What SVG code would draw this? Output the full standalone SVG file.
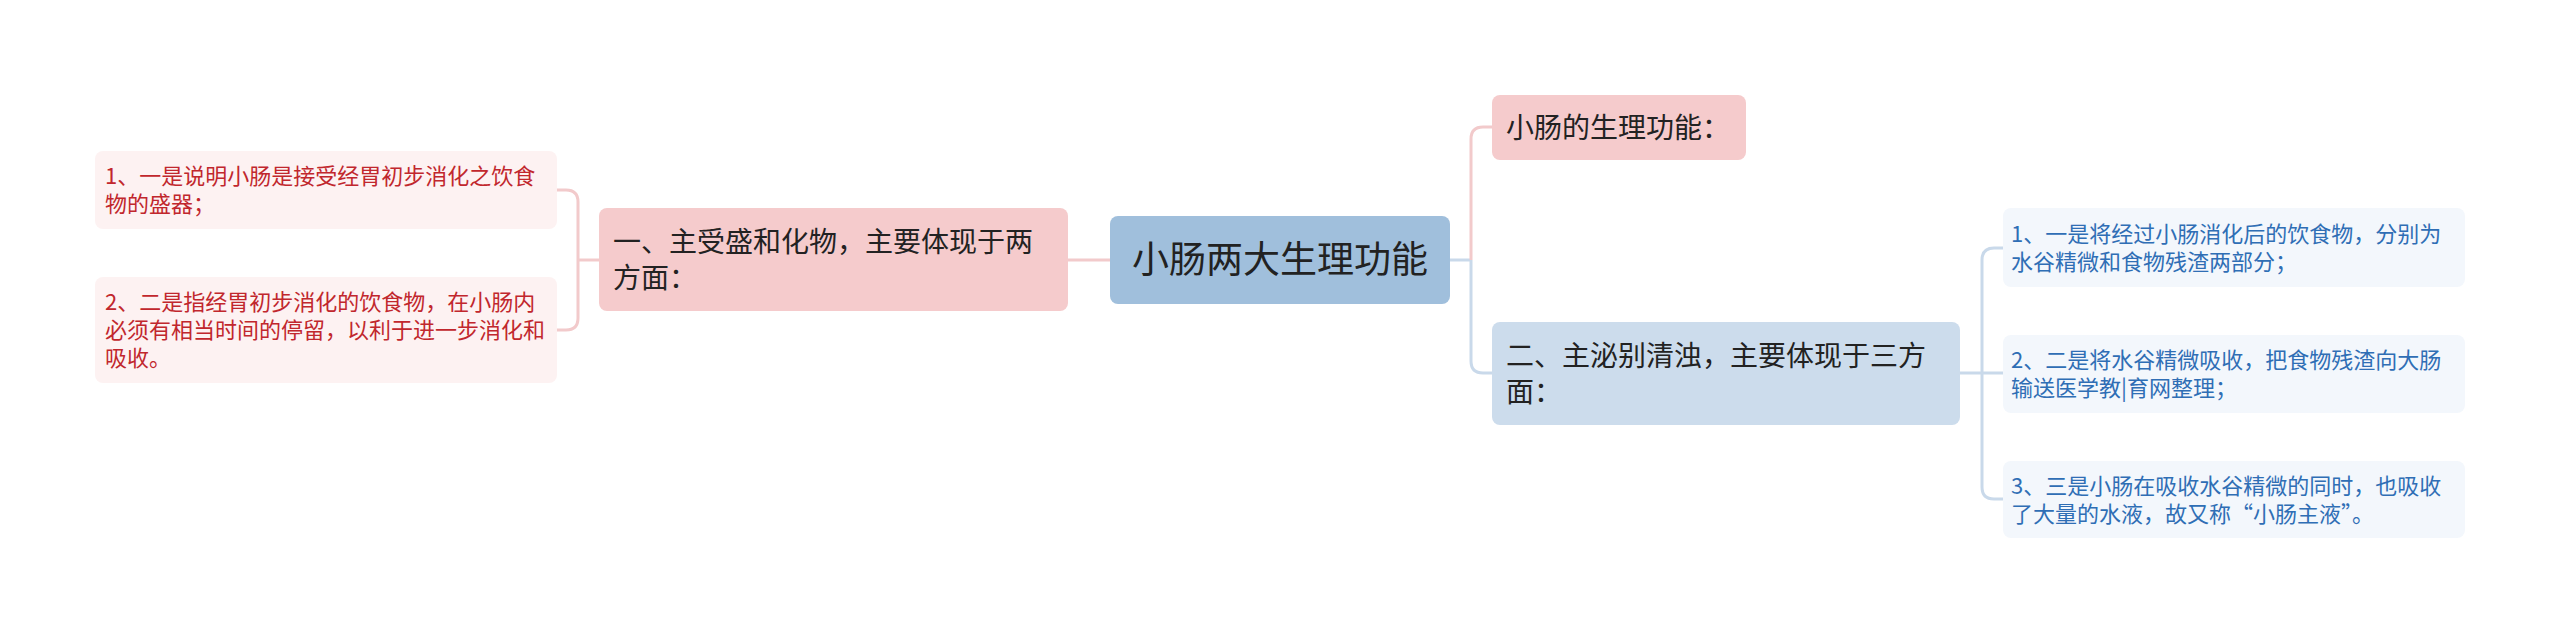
<svg xmlns="http://www.w3.org/2000/svg" width="2560" height="634" viewBox="0 0 2560 634">
<style>
text{font-family:"Noto Sans CJK SC","Noto Sans",sans-serif}
.root{fill:#a0bfdc}
.pink{fill:#f5cbcc}
.blue{fill:#ccdcec}
.lleaf{fill:#fdf2f2}
.rleaf{fill:#f3f7fc}
.t1{font-size:28px;fill:#222}
.t0{font-size:37px;fill:#222}
.tl{font-size:22px;fill:#c1272d}
.tr{font-size:22px;fill:#2f6eb5}
.cp{fill:none;stroke:#f2cacb;stroke-width:3}
.cb{fill:none;stroke:#c9d9ea;stroke-width:3}
</style>
<rect width="2560" height="634" fill="#ffffff"/>
<g id="connectors">
<path class="cp" d="M1110,260 H1068"/>
<path class="cp" d="M599,260 H578"/>
<path class="cp" d="M557,190 H566 Q578,190 578,202 V318 Q578,330 566,330 H557"/>
<path class="cb" d="M1450,260 H1471"/>
<path class="cp" d="M1471,260 V139 Q1471,127 1483,127 H1492"/>
<path class="cb" d="M1471,260 V361 Q1471,373 1483,373 H1492"/>
<path class="cb" d="M1960,373 H2003"/>
<path class="cb" d="M2003,248 H1994 Q1982,248 1982,260 V487 Q1982,499 1994,499 H2003"/>
</g>
<g id="root">
<rect class="root" x="1110" y="216" width="340" height="88" rx="8"/>
<text class="t0" x="1280" y="273" text-anchor="middle">小肠两大生理功能</text>
</g>
<g id="left1">
<rect class="pink" x="599" y="208" width="469" height="103" rx="8"/>
<text class="t1" x="613" y="251.5">一、主受盛和化物，主要体现于两</text>
<text class="t1" x="613" y="287.5">方面：</text>
</g>
<g id="leftleaf1">
<rect class="lleaf" x="95" y="151" width="462" height="78" rx="8"/>
<text class="tl" x="105" y="184">1、一是说明小肠是接受经胃初步消化之饮食</text>
<text class="tl" x="105" y="212">物的盛器；</text>
</g>
<g id="leftleaf2">
<rect class="lleaf" x="95" y="277" width="462" height="106" rx="8"/>
<text class="tl" x="105" y="310">2、二是指经胃初步消化的饮食物，在小肠内</text>
<text class="tl" x="105" y="338">必须有相当时间的停留，以利于进一步消化和</text>
<text class="tl" x="105" y="366">吸收。</text>
</g>
<g id="right1">
<rect class="pink" x="1492" y="95" width="254" height="65" rx="8"/>
<text class="t1" x="1506" y="137.5">小肠的生理功能：</text>
</g>
<g id="right2">
<rect class="blue" x="1492" y="322" width="468" height="103" rx="8"/>
<text class="t1" x="1506" y="365.5">二、主泌别清浊，主要体现于三方</text>
<text class="t1" x="1506" y="401.5">面：</text>
</g>
<g id="rightleaf1">
<rect class="rleaf" x="2003" y="208" width="462" height="79" rx="8"/>
<text class="tr" x="2011" y="241.5">1、一是将经过小肠消化后的饮食物，分别为</text>
<text class="tr" x="2011" y="269.5">水谷精微和食物残渣两部分；</text>
</g>
<g id="rightleaf2">
<rect class="rleaf" x="2003" y="335" width="462" height="78" rx="8"/>
<text class="tr" x="2011" y="368">2、二是将水谷精微吸收，把食物残渣向大肠</text>
<text class="tr" x="2011" y="396">输送医学教|育网整理；</text>
</g>
<g id="rightleaf3">
<rect class="rleaf" x="2003" y="461" width="462" height="77" rx="8"/>
<text class="tr" x="2011" y="493.5">3、三是小肠在吸收水谷精微的同时，也吸收</text>
<text class="tr" x="2011" y="521.5">了大量的水液，故又称“小肠主液”。</text>
</g>
</svg>
